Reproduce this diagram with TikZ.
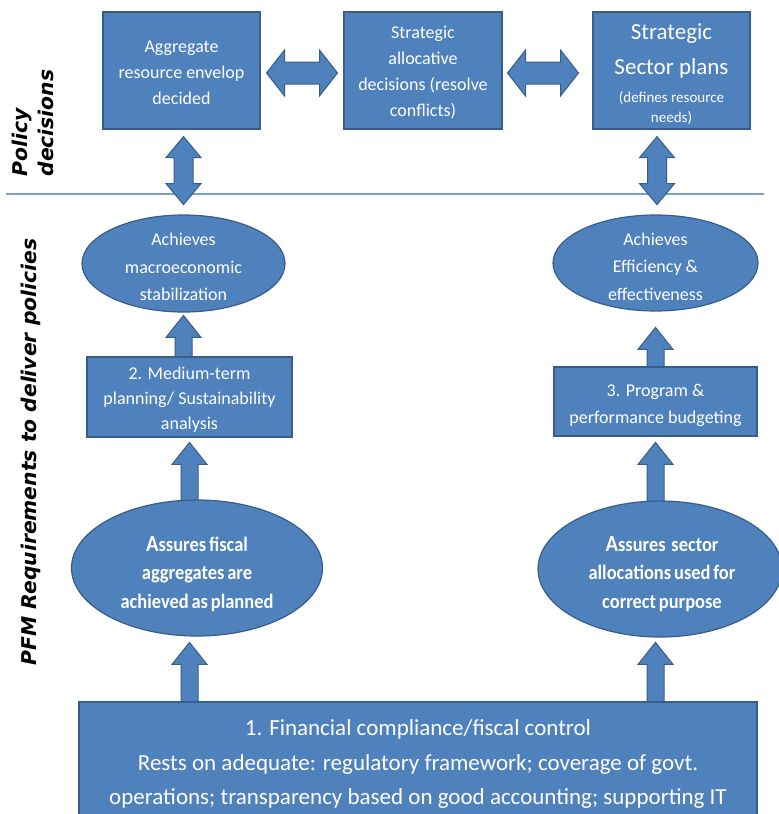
\documentclass[tikz,border=0pt]{standalone}
\usepackage{fontspec}
\setmainfont{Carlito}
\newfontfamily\labfont{DejaVu Sans}
\newfontfamily\condfont[FakeStretch=0.9]{Carlito}
\usetikzlibrary{shapes.geometric,calc}
\definecolor{bfill}{HTML}{4F81BD}
\definecolor{bdraw}{HTML}{385D8A}
\definecolor{sepline}{HTML}{7A9FCF}
\pgfdeclarelayer{bg}
\pgfsetlayers{bg,main}
\newcommand\tightspaces{\spaceskip=0.14em plus 0.05em\relax}
\tikzset{
  box/.style={draw=bdraw, fill=bfill, line width=1.2pt, text=white, inner sep=0pt, align=center, font=\fontsize{18}{26}\selectfont},
  oval/.style={ellipse, draw=bdraw, fill=bfill, line width=1.2pt, text=white, inner sep=0pt, align=center, font=\fontsize{18}{27.5}\selectfont},
  whitetext/.style={text=white, inner sep=0pt, align=center},
  boldtext/.style={whitetext, font=\condfont\bfseries\fontsize{20.5}{28.5}\selectfont\tightspaces},
  arrshape/.style={draw=bdraw, fill=bfill, line width=1pt, line join=miter},
  lab/.style={rotate=90, align=left, inner sep=0pt, font=\labfont\bfseries\itshape\fontsize{20.3}{26}\selectfont},
  uparr/.pic={\path[arrshape] (-8.5,0) -- (-8.5,{-#1+22}) -- (-17.5,{-#1+22}) -- (0,{-#1}) -- (17.5,{-#1+22}) -- (8.5,{-#1+22}) -- (8.5,0) -- cycle;},
  harr/.pic={\path[arrshape] (-35.5,0) -- (-17.5,-23) -- (-17.5,-11) -- (17.5,-11) -- (17.5,-23) -- (35.5,0) -- (17.5,23) -- (17.5,11) -- (-17.5,11) -- (-17.5,23) -- cycle;},
  varr/.pic={\path[arrshape] (0,-34) -- (17.5,-13) -- (9.5,-13) -- (9.5,13) -- (17.5,13) -- (0,34) -- (-17.5,13) -- (-9.5,13) -- (-9.5,-13) -- (-17.5,-13) -- cycle;}
}
\begin{document}
\begin{tikzpicture}[x=1pt,y=-1pt]
\useasboundingbox (0,0) rectangle (779,814);

% top row boxes
\node[box, minimum width=157pt, minimum height=117pt] (b1) at (181.5,70.5) {};
\node[whitetext, font=\fontsize{18}{26}\selectfont] (t1) at (181.5,73) {Aggregate\\resource envelop\\decided};
\node[box, minimum width=158pt, minimum height=117pt] (b2) at (423,70.5) {};
\node[whitetext, font=\fontsize{18}{26}\selectfont] (t2) at (423,72.5) {Strategic\\allocative\\decisions (resolve\\conflicts)};
\node[box, minimum width=157pt, minimum height=117pt] (b3) at (671.5,70.5) {};
\node[whitetext, anchor=base, font=\fontsize{23}{28}\selectfont] (t3a) at (671.5,39.5) {Strategic};
\node[whitetext, anchor=base, font=\fontsize{23}{28}\selectfont] (t3b) at (671.5,74.5) {Sector plans};
\node[whitetext, anchor=base, font=\fontsize{15}{20}\selectfont] (t3c) at (671.5,102) {(defines resource};
\node[whitetext, anchor=base, font=\fontsize{15}{20}\selectfont] (t3d) at (671.5,122) {needs)};

% upper ellipses
\node[oval, minimum width=203pt, minimum height=97pt] (e1) at (183.5,263.5) {};
\node[whitetext, font=\fontsize{18}{27.5}\selectfont] (t4) at (183.5,267) {Achieves\\macroeconomic\\stabilization};
\node[oval, minimum width=205pt, minimum height=96pt] (e2) at (655.5,263) {};
\node[whitetext, font=\fontsize{18}{27.5}\selectfont] (t5) at (655.5,266.5) {Achieves\\Efficiency \&\\effectiveness};

% middle boxes
\node[box, minimum width=205pt, minimum height=80pt] (m2) at (189.5,397) {};
\node[whitetext, font=\fontsize{18}{25}\selectfont] (t6) at (189.5,399.5) {2. Medium-term\\planning/ Sustainability\\analysis};
\node[box, minimum width=203pt, minimum height=69pt] (m3) at (655.5,401.5) {};
\node[whitetext, font=\fontsize{18}{27}\selectfont] (t7) at (655.5,405) {3. Program \&\\performance budgeting};

% lower ellipses
\node[oval, minimum width=251pt, minimum height=136pt] (e3) at (197,568) {};
\node[boldtext] (t8) at (197,574) {{\fontsize{23}{28.5}\selectfont A}ssures fiscal\\aggregates are\\achieved as planned};
\node[oval, minimum width=244pt, minimum height=136pt] (e4) at (660,569) {};
\node[boldtext] (t9) at (662,574) {{\fontsize{23}{28.5}\selectfont A}ssures\ \ sector\\allocations used for\\correct purpose};

% bottom box
\node[box, minimum width=678pt, minimum height=120pt] (bot) at (418,762) {};
\node[whitetext, font=\fontsize{23}{34.5}\selectfont] (t10) at (418,764) {1. Financial compliance/fiscal control\\Rests on adequate: regulatory framework; coverage of govt.\\operations; transparency based on good accounting; supporting IT};

% side labels
\node[lab] (pol) at (33,123) {Policy\\decisions};
\node[lab] (pfm) at (31,452) {PFM Requirements to deliver policies};

\begin{pgfonlayer}{bg}
  \coordinate (sl) at (6,194);
  \coordinate (sr) at (764,194);
  \draw[sepline, line width=1.5pt] (sl) -- (sr);
  % double arrows
  \pic at ($(b1.east)!0.5!(b2.west)+(0,2.5)$) {harr};
  \pic at ($(b2.east)!0.5!(b3.west)+(-4.5,2.5)$) {harr};
  \pic at ($(b1.south -| e1.north)+(0,41)$) {varr};
  \pic at ($(b3.south -| e2.north)+(1.5,41)$) {varr};
  % up arrows
  \pic at ($(m2.north -| e1.south)+(0,3)$) {uparr=44};
  \pic at ($(e3.north -| m2.south)+(0,4)$) {uparr=61};
  \pic at ($(bot.north -| m2.south)+(0,3)$) {uparr=62};
  \pic at ($(m3.north -| e2.south)+(0,3)$) {uparr=42};
  \pic at ($(e4.north -| m3.south)+(0,4)$) {uparr=62};
  \pic at ($(bot.north -| m3.south)+(0,3)$) {uparr=62};
\end{pgfonlayer}
\end{tikzpicture}
\end{document}
